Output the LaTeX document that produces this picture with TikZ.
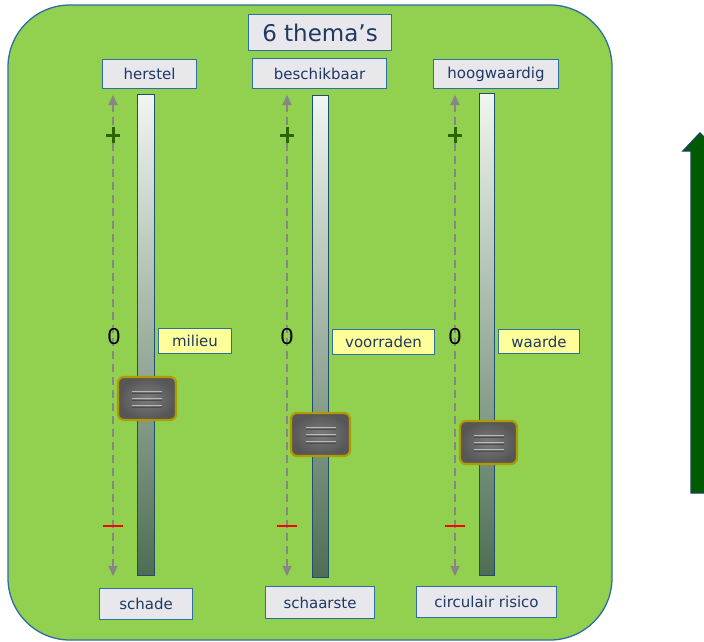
\documentclass[tikz,border=0pt]{standalone}
\usepackage{fontspec}
\setmainfont{DejaVu Sans}
\newfontfamily\zerofont{Liberation Sans}
\usetikzlibrary{arrows.meta}
\definecolor{boxgreen}{HTML}{92D050}
\definecolor{boxblue}{HTML}{2F6EA0}
\definecolor{labelgrey}{HTML}{E8E8EC}
\definecolor{navytext}{HTML}{1F3864}
\definecolor{labelyellow}{HTML}{FFFF99}
\definecolor{trackTop}{HTML}{F0F6F0}
\definecolor{trackBot}{HTML}{4E6E54}
\definecolor{knobGold}{HTML}{B09A00}
\definecolor{knobIn}{HTML}{7C7C7C}
\definecolor{knobOut}{HTML}{565656}
\definecolor{plusgreen}{HTML}{2E6400}
\definecolor{arrowgreen}{HTML}{005A00}
\tikzset{
  lbl/.style={draw=boxblue, line width=1.1pt, fill=labelgrey, text=navytext, font=\fontsize{15}{17}\selectfont, inner sep=0pt, anchor=north west},
  ylbl/.style={draw=boxblue, line width=1.1pt, fill=labelyellow, text=navytext, font=\fontsize{15}{17}\selectfont, inner sep=0pt, anchor=north west},
  zero/.style={font=\zerofont\fontsize{23}{24}\selectfont, text=black, inner sep=0pt},
  dasharrow/.style={draw=gray!95, line width=2pt, dash pattern=on 8pt off 5pt, {Triangle[length=10pt,width=9pt]}-{Triangle[length=10pt,width=9pt]}},
  track/.style={draw=boxblue!70!black, line width=0.9pt, top color=trackTop, bottom color=trackBot},
  knob/.style={draw=knobGold, line width=2.2pt, rounded corners=6pt, inner color=knobIn, outer color=knobOut},
  knobline/.style={draw=gray!55, line width=1.8pt},
  knobshade/.style={draw=black!70, line width=1pt},
  plusmark/.style={draw=plusgreen, line width=3pt},
  minusmark/.style={draw=red, line width=2.8pt}
}
\begin{document}
\begin{tikzpicture}[x=1pt,y=-1pt]
\useasboundingbox (0,0) rectangle (704,642);
\clip (0,0) rectangle (704,642);
\fill[white] (0,0) rectangle (704,642);
% main green panel
\draw[fill=boxgreen, draw=boxblue, line width=1.3pt, rounded corners=62pt] (8,5) rectangle (612,640);
% title
\node[lbl, minimum width=143pt, minimum height=36pt, font=\fontsize{23}{26}\selectfont] (title) at (248,14) {6 thema’s};
% top labels
\node[lbl, minimum width=94pt, minimum height=29pt] (t1) at (102,59) {herstel};
\node[lbl, minimum width=134pt, minimum height=30pt] (t2) at (252,58) {beschikbaar};
\node[lbl, minimum width=125pt, minimum height=29pt] (t3) at (433,59) {hoogwaardig};
% bottom labels
\node[lbl, minimum width=93pt, minimum height=31pt] (b1) at (99,588) {schade};
\node[lbl, minimum width=109pt, minimum height=32pt] (b2) at (265,586) {schaarste};
\node[lbl, minimum width=140pt, minimum height=31pt] (b3) at (416,586) {circulair risico};
% tracks
\path[track] (137,94) rectangle (154,575);
\path[track] (312,95) rectangle (328,577);
\path[track] (479,93) rectangle (494,575);
% dashed arrows
\coordinate (a1t) at (113,95); \coordinate (a1b) at (113,576);
\coordinate (a2t) at (287,95); \coordinate (a2b) at (287,576);
\coordinate (a3t) at (455,95); \coordinate (a3b) at (455,576);
\draw[dasharrow] (a1b) -- (a1t);
\draw[dasharrow] (a2b) -- (a2t);
\draw[dasharrow] (a3b) -- (a3t);
% plus and minus
\foreach \x in {113,287,455}{
  \draw[plusmark] (\x-7,135) -- (\x+7,135);
  \draw[plusmark] (\x,127) -- (\x,143);
  \draw[minusmark] (\x-10,526) -- (\x+10,526);
}
% zeros
\node[zero] (z1) at (114,337) {0};
\node[zero] (z2) at (287,337) {0};
\node[zero] (z3) at (455,337) {0};
% yellow labels
\node[ylbl, minimum width=73pt, minimum height=25pt] (y1) at (158,328) {milieu};
\node[ylbl, minimum width=102pt, minimum height=25pt] (y2) at (332,329) {voorraden};
\node[ylbl, minimum width=81pt, minimum height=24pt] (y3) at (498,329) {waarde};
% knobs
\foreach \xa/\ya/\xb/\yb in {118/377/176/420, 291/413/350/456, 460/421/517/464}{
  \path[knob] (\xa,\ya) rectangle (\xb,\yb);
  \pgfmathsetmacro{\cx}{(\xa+\xb)/2}
  \pgfmathsetmacro{\cy}{(\ya+\yb)/2}
  \foreach \d in {-7,0,7}{
    \draw[knobshade] (\cx-15,\cy+\d+1.5) -- (\cx+15,\cy+\d+1.5);
    \draw[knobline] (\cx-15,\cy+\d) -- (\cx+15,\cy+\d);
  }
}
% big green arrow on the right
\draw[fill=arrowgreen, draw=boxblue!60!black, line width=1.4pt, line join=miter]
  (683,151) -- (700,133) -- (717,151) -- (711,151) -- (711,493) -- (691,493) -- (691,151) -- cycle;
\end{tikzpicture}
\end{document}
